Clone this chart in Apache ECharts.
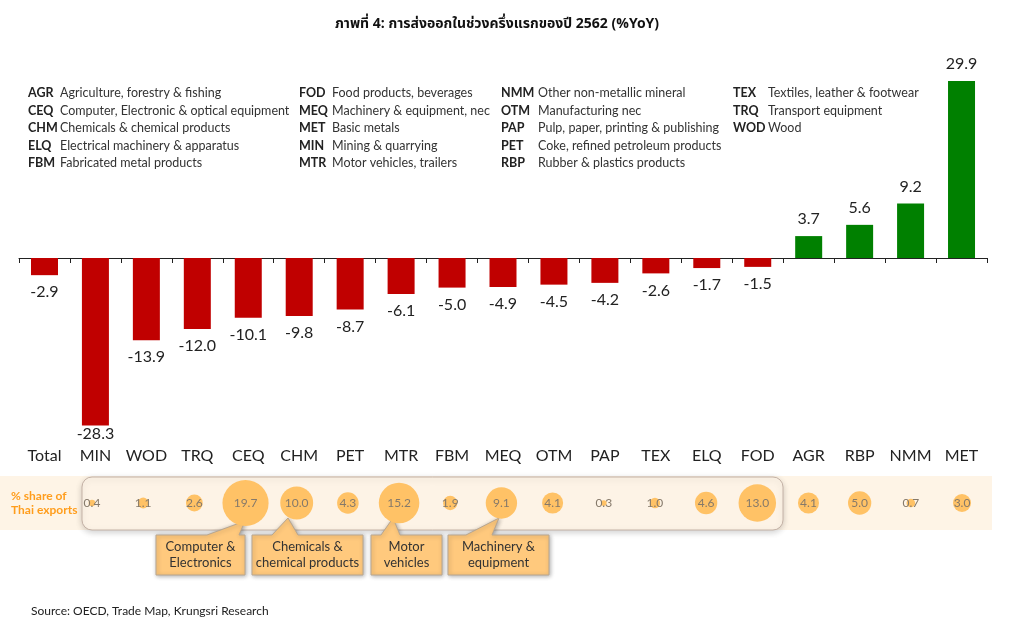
<!DOCTYPE html>
<html>
<head>
<meta charset="utf-8">
<style>html,body{margin:0;padding:0;background:#fff}#main{width:1025px;height:626px}</style>
<script src="https://cdn.jsdelivr.net/npm/echarts@6/dist/echarts.min.js"></script>
</head>
<body>
<div id="main"></div>
<script>
// sector growth, %YoY
var categories = ['Total','MIN','WOD','TRQ','CEQ','CHM','PET','MTR','FBM','MEQ','OTM','PAP','TEX','ELQ','FOD','AGR','RBP','NMM','MET'];
var growth = [-2.9,-28.3,-13.9,-12.0,-10.1,-9.8,-8.7,-6.1,-5.0,-4.9,-4.5,-4.2,-2.6,-1.7,-1.5,3.7,5.6,9.2,29.9];
// % share of Thai exports (no bubble for Total)
var shareCategories = categories.slice(1);
var share = [0.4,1.1,2.6,19.7,10.0,4.3,15.2,1.9,9.1,4.1,0.3,1.0,4.6,13.0,4.1,5.0,0.7,3.0];

var legendCodes = [
  ['AGR','CEQ','CHM','ELQ','FBM'],
  ['FOD','MEQ','MET','MIN','MTR'],
  ['NMM','OTM','PAP','PET','RBP'],
  ['TEX','TRQ','WOD']
];
var legendNames = [
  ['Agriculture, forestry & fishing','Computer, Electronic & optical equipment','Chemicals & chemical products','Electrical machinery & apparatus','Fabricated metal products'],
  ['Food products, beverages','Machinery & equipment, nec','Basic metals','Mining & quarrying','Motor vehicles, trailers'],
  ['Other non-metallic mineral','Manufacturing nec','Pulp, paper, printing & publishing','Coke, refined petroleum products','Rubber & plastics products'],
  ['Textiles, leather & footwear','Transport equipment','Wood']
];
var legendCodeX = [28,299,501,733];
var legendNameX = [60,332,538,768];
var legendRowY = [93,111,128,146,163];

var font = 'Lato, Carlito, "Noto Sans", sans-serif';
var thaiFont = '"Noto Sans Thai", "Noto Sans", "DejaVu Sans", sans-serif';

var graphics = [
  {type:'rect',z:0,shape:{x:0,y:476,width:992,height:54},style:{fill:'#fef4e6'}},
  {type:'rect',z:1,shape:{x:82,y:477,width:701,height:53,r:10},
    style:{fill:'#fdf3e6',stroke:'#c4b2a6',lineWidth:1,shadowBlur:6,shadowColor:'rgba(0,0,0,0.18)',shadowOffsetY:2}},
  {type:'text',z:3,x:11,y:496,style:{text:'% share of',font:'bold 12px '+font,fill:'#ff9d1c',verticalAlign:'middle'}},
  {type:'text',z:3,x:11,y:510,style:{text:'Thai exports',font:'bold 12px '+font,fill:'#ff9d1c',verticalAlign:'middle'}},
  {type:'text',z:3,x:31,y:611,style:{text:'Source: OECD, Trade Map, Krungsri Research',font:'12px '+font,fill:'#222',verticalAlign:'middle'}}
];

legendCodes.forEach(function(col,c){
  col.forEach(function(code,r){
    graphics.push({type:'text',x:legendCodeX[c],y:legendRowY[r],style:{text:code,font:'bold 12.5px '+font,fill:'#222',verticalAlign:'middle'}});
    graphics.push({type:'text',x:legendNameX[c],y:legendRowY[r],style:{text:legendNames[c][r],font:'12.5px '+font,fill:'#333',verticalAlign:'middle'}});
  });
});

// callout boxes under the big bubbles
var callouts = [
  {lines:'Computer &\nElectronics',x:156,w:89,base:[207,239],tip:[245,521]},
  {lines:'Chemicals &\nchemical products',x:252,w:111,base:[272,298],tip:[288,518]},
  {lines:'Motor\nvehicles',x:371,w:71,base:[381,400],tip:[393,518]},
  {lines:'Machinery &\nequipment',x:448,w:101,base:[466,492],tip:[499,518]}
];
callouts.forEach(function(b){
  var top=535,bottom=575;
  graphics.push({type:'polygon',z:4,
    shape:{points:[[b.x,top],[b.base[0],top],b.tip,[b.base[1],top],[b.x+b.w,top],[b.x+b.w,bottom],[b.x,bottom]]},
    style:{fill:'#ffc97d',stroke:'#b8a690',lineWidth:1,shadowBlur:4,shadowColor:'rgba(0,0,0,0.3)',shadowOffsetX:1,shadowOffsetY:1}});
  graphics.push({type:'text',z:5,x:b.x+b.w/2,y:(top+bottom)/2,
    style:{text:b.lines,font:'13px '+font,fill:'#333',align:'center',verticalAlign:'middle',lineHeight:16}});
});

var chart = echarts.init(document.getElementById('main'));
chart.setOption({
  backgroundColor:'#fff',
  animation:false,
  title:{
    text:'ภาพที่ 4: การส่งออกในช่วงครึ่งแรกของปี 2562 (%YoY)',
    left:492,top:20,textAlign:'center',textVerticalAlign:'middle',
    textStyle:{fontFamily:thaiFont,fontSize:14,fontWeight:'bold',color:'#111'}
  },
  graphic:graphics,
  grid:[
    {left:19,right:38,top:80.4,height:355.2,containLabel:false},
    {left:66.4,right:37.4,top:476,height:54,containLabel:false}
  ],
  xAxis:[
    // line and ticks on zero
    {gridIndex:0,type:'category',data:categories,axisLine:{onZero:true,lineStyle:{color:'#222',width:1}},
      axisTick:{show:true,inside:false,length:5,lineStyle:{color:'#222'}},axisLabel:{show:false}},
    // sector codes under the plot
    {gridIndex:0,type:'category',data:categories,position:'bottom',offset:12,axisLine:{show:false,onZero:false},axisTick:{show:false},
      axisLabel:{show:true,fontFamily:font,fontSize:16,color:'#222',margin:0,interval:0}},
    {gridIndex:1,type:'category',data:shareCategories,show:false}
  ],
  yAxis:[
    {gridIndex:0,type:'value',min:-30,max:30,show:false},
    {gridIndex:1,type:'value',min:0,max:2,show:false}
  ],
  series:[
    {type:'bar',xAxisIndex:0,yAxisIndex:0,barWidth:27,
      data:growth.map(function(v,i){
        return {value:v,itemStyle:{color:v<0?'#c00000':'#008000'},
          label:{distance:categories[i]==='MIN'?0:9}};
      }),
      label:{show:true,position:'outside',fontFamily:font,fontSize:16,color:'#222',
        formatter:function(p){return p.value.toFixed(1);}}
    },
    {type:'scatter',xAxisIndex:2,yAxisIndex:1,z:5,
      data:share.map(function(v){return [null,1,v];}).map(function(d,i){return [shareCategories[i],1,d[2]];}),
      symbolSize:function(d){return 10.4*Math.sqrt(d[2]);},
      itemStyle:{color:'#ffc266',opacity:1},
      label:{show:true,position:'inside',fontFamily:font,fontSize:12,color:'#85796a',
        formatter:function(p){return p.value[2].toFixed(1);}}
    }
  ]
});
</script>
</body>
</html>
